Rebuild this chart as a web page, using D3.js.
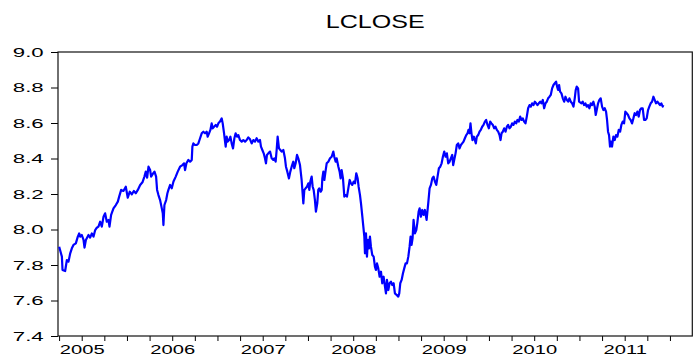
<!DOCTYPE html>
<html>
<head>
<meta charset="utf-8">
<script src="https://cdn.jsdelivr.net/npm/d3@7"></script>
<style>
    body { margin: 0; background: #fff; }
    text { font-family: "Liberation Sans", Arial, sans-serif; fill: #000; }
</style>
</head>
<body>
<script>
const dates = [
    2004.751, 2004.781, 2004.788, 2004.817, 2004.836, 2004.854, 2004.873, 2004.891, 2004.909, 2004.935,
    2004.957, 2004.972, 2004.983, 2005.001, 2005.020, 2005.031, 2005.046, 2005.075, 2005.093, 2005.112,
    2005.130, 2005.149, 2005.167, 2005.185, 2005.204, 2005.222, 2005.241, 2005.259, 2005.277, 2005.296,
    2005.307, 2005.325, 2005.351, 2005.377, 2005.399, 2005.414, 2005.436, 2005.461, 2005.487, 2005.509,
    2005.531, 2005.553, 2005.576, 2005.598, 2005.620, 2005.646, 2005.671, 2005.693, 2005.708, 2005.723,
    2005.738, 2005.756, 2005.767, 2005.789, 2005.804, 2005.822, 2005.833, 2005.848, 2005.866, 2005.885,
    2005.896, 2005.903, 2005.914, 2005.933, 2005.947, 2005.958, 2005.977, 2005.995, 2006.014, 2006.039,
    2006.061, 2006.087, 2006.113, 2006.131, 2006.142, 2006.157, 2006.179, 2006.198,
    2006.216, 2006.223, 2006.234, 2006.252, 2006.271, 2006.289, 2006.308, 2006.326, 2006.344, 2006.363,
    2006.381, 2006.392, 2006.407, 2006.422, 2006.436, 2006.447, 2006.462, 2006.481, 2006.495, 2006.510,
    2006.528, 2006.547, 2006.558, 2006.573, 2006.584, 2006.591, 2006.602, 2006.613, 2006.628, 2006.643,
    2006.657, 2006.672, 2006.687, 2006.701, 2006.716, 2006.731, 2006.749, 2006.768, 2006.786, 2006.805,
    2006.823, 2006.841, 2006.860, 2006.878, 2006.897, 2006.915, 2006.933, 2006.952, 2006.970, 2006.981,
    2006.996, 2007.011, 2007.025, 2007.036, 2007.047, 2007.062, 2007.081, 2007.099, 2007.117, 2007.128,
    2007.143, 2007.154, 2007.165, 2007.180, 2007.195, 2007.209, 2007.228, 2007.246, 2007.257, 2007.272,
    2007.290, 2007.305, 2007.320, 2007.338, 2007.349, 2007.364, 2007.379, 2007.393, 2007.412, 2007.430,
    2007.441, 2007.449, 2007.460, 2007.474, 2007.489, 2007.504, 2007.515, 2007.526, 2007.541, 2007.552,
    2007.563, 2007.577, 2007.588, 2007.603, 2007.614, 2007.625,
    2007.641, 2007.652, 2007.659, 2007.670, 2007.681, 2007.696, 2007.707, 2007.725, 2007.744, 2007.762,
    2007.780, 2007.791, 2007.806, 2007.817, 2007.836, 2007.850, 2007.861, 2007.872, 2007.887, 2007.902,
    2007.917, 2007.931, 2007.946, 2007.961, 2007.975, 2007.990, 2008.005, 2008.020, 2008.034, 2008.049,
    2008.060, 2008.075, 2008.086, 2008.101, 2008.112, 2008.123, 2008.130, 2008.141, 2008.152, 2008.163,
    2008.174, 2008.185, 2008.196, 2008.211, 2008.226, 2008.240, 2008.251, 2008.263, 2008.277, 2008.292,
    2008.307, 2008.321, 2008.336, 2008.351, 2008.362, 2008.373, 2008.388, 2008.402, 2008.417, 2008.432,
    2008.447, 2008.461, 2008.480, 2008.498, 2008.509, 2008.520, 2008.535, 2008.550, 2008.564, 2008.579,
    2008.594, 2008.609, 2008.623, 2008.634, 2008.645, 2008.656, 2008.667, 2008.682, 2008.697, 2008.708,
    2008.723, 2008.734, 2008.748, 2008.763, 2008.778, 2008.792, 2008.811, 2008.829, 2008.844, 2008.859,
    2008.874, 2008.888, 2008.903, 2008.918, 2008.932, 2008.947, 2008.962, 2008.977, 2008.991, 2009.006,
    2009.021, 2009.035, 2009.050, 2009.065,
    2009.094, 2009.105, 2009.116, 2009.131, 2009.145, 2009.160, 2009.175, 2009.190, 2009.204, 2009.219,
    2009.234, 2009.249, 2009.263, 2009.274, 2009.285, 2009.296, 2009.307, 2009.318, 2009.333, 2009.344,
    2009.355, 2009.366, 2009.381, 2009.396, 2009.410, 2009.425, 2009.440, 2009.455, 2009.469, 2009.484,
    2009.499, 2009.514, 2009.528, 2009.543, 2009.558, 2009.572, 2009.587, 2009.602, 2009.617, 2009.628,
    2009.639, 2009.653, 2009.668, 2009.683, 2009.698, 2009.712, 2009.727, 2009.742, 2009.756, 2009.771,
    2009.786, 2009.801, 2009.815, 2009.830, 2009.845, 2009.860, 2009.874, 2009.889, 2009.904, 2009.918,
    2009.933, 2009.948, 2009.963, 2009.977, 2009.992, 2010.007, 2010.021, 2010.036, 2010.051, 2010.066,
    2010.080, 2010.095, 2010.110, 2010.125, 2010.139, 2010.154, 2010.169, 2010.183, 2010.198, 2010.213,
    2010.228, 2010.242, 2010.253, 2010.264, 2010.275, 2010.286, 2010.301, 2010.316, 2010.331, 2010.345,
    2010.360, 2010.375, 2010.389, 2010.404, 2010.419, 2010.434, 2010.448, 2010.459, 2010.470, 2010.485,
    2010.496,
    2010.522, 2010.536, 2010.551, 2010.566, 2010.580, 2010.595, 2010.610, 2010.625, 2010.639, 2010.654,
    2010.669, 2010.680, 2010.691, 2010.706, 2010.720, 2010.735, 2010.750, 2010.765, 2010.779, 2010.794,
    2010.805, 2010.816, 2010.827, 2010.838, 2010.849, 2010.860, 2010.875, 2010.890, 2010.904, 2010.919,
    2010.934, 2010.949, 2010.963, 2010.978, 2010.993, 2011.007, 2011.022, 2011.037, 2011.052, 2011.066,
    2011.081, 2011.096, 2011.110, 2011.125, 2011.140, 2011.155, 2011.169, 2011.184, 2011.199, 2011.214,
    2011.228, 2011.243, 2011.258, 2011.272, 2011.287, 2011.302, 2011.317, 2011.331, 2011.346, 2011.361,
    2011.375, 2011.390, 2011.405, 2011.420, 2011.427
];

// LCLOSE value for each date above
const lclose = [
    7.903, 7.847, 7.772, 7.766, 7.828, 7.819, 7.866, 7.894, 7.913, 7.922,
    7.960, 7.978, 7.960, 7.969, 7.941, 7.898, 7.941, 7.969, 7.954, 7.978,
    7.960, 7.997, 8.010, 8.016, 8.044, 8.016, 8.072, 8.091, 8.044, 8.054,
    8.016, 8.082, 8.119, 8.138, 8.157, 8.185, 8.223, 8.217, 8.241, 8.179,
    8.213, 8.198, 8.217, 8.204, 8.223, 8.251, 8.266, 8.298, 8.326, 8.292,
    8.354, 8.335, 8.298, 8.316, 8.326, 8.298, 8.223, 8.194, 8.166, 8.119,
    8.091, 8.025, 8.138, 8.166, 8.204, 8.223, 8.251, 8.232, 8.270, 8.298,
    8.326, 8.354, 8.363, 8.373, 8.335, 8.373, 8.392, 8.382,
    8.392, 8.467, 8.485, 8.476, 8.476, 8.485, 8.514, 8.542, 8.551, 8.542,
    8.551, 8.523, 8.542, 8.561, 8.598, 8.570, 8.579, 8.589, 8.579, 8.598,
    8.608, 8.626, 8.598, 8.542, 8.495, 8.467, 8.523, 8.495, 8.504, 8.523,
    8.485, 8.457, 8.514, 8.542, 8.523, 8.532, 8.504, 8.495, 8.504, 8.495,
    8.504, 8.519, 8.508, 8.485, 8.504, 8.495, 8.514, 8.495, 8.504, 8.467,
    8.448, 8.429, 8.401, 8.373, 8.420, 8.429, 8.439, 8.401, 8.392, 8.401,
    8.382, 8.448, 8.523, 8.457, 8.448, 8.439, 8.448, 8.401, 8.354, 8.326,
    8.288, 8.326, 8.354, 8.382, 8.345, 8.373, 8.420, 8.401, 8.363, 8.279,
    8.204, 8.147, 8.223, 8.232, 8.241, 8.260, 8.223, 8.270, 8.298, 8.241,
    8.223, 8.166, 8.101, 8.147, 8.223, 8.232,
    8.213, 8.223, 8.288, 8.326, 8.279, 8.335, 8.373, 8.382, 8.401, 8.410,
    8.439, 8.410, 8.382, 8.401, 8.354, 8.326, 8.288, 8.335, 8.288, 8.185,
    8.194, 8.185, 8.232, 8.279, 8.260, 8.251, 8.270, 8.260, 8.317, 8.288,
    8.241, 8.194, 8.147, 8.072, 8.016, 7.960, 7.866, 7.978, 7.847, 7.941,
    7.894, 7.960, 7.903, 7.856, 7.847, 7.791, 7.772, 7.809, 7.781, 7.734,
    7.762, 7.697, 7.734, 7.678, 7.640, 7.716, 7.659, 7.697, 7.706, 7.687,
    7.697, 7.640, 7.631, 7.622, 7.640, 7.697, 7.716, 7.753, 7.781, 7.809,
    7.809, 7.847, 7.903, 7.960, 7.913, 7.950, 8.054, 7.978, 7.997, 8.035,
    8.101, 8.119, 8.072, 8.110, 8.082, 8.110, 8.054, 8.147, 8.232, 8.251,
    8.288, 8.298, 8.270, 8.251, 8.298, 8.345, 8.354, 8.373, 8.410, 8.439,
    8.410, 8.429, 8.373, 8.382,
    8.420, 8.363, 8.392, 8.429, 8.476, 8.485, 8.457, 8.476, 8.485, 8.495,
    8.514, 8.532, 8.542, 8.561, 8.542, 8.598, 8.542, 8.504, 8.523, 8.504,
    8.485, 8.523, 8.532, 8.551, 8.561, 8.579, 8.589, 8.608, 8.617, 8.589,
    8.570, 8.608, 8.598, 8.589, 8.570, 8.579, 8.561, 8.551, 8.532, 8.504,
    8.542, 8.551, 8.570, 8.551, 8.579, 8.589, 8.570, 8.579, 8.598, 8.589,
    8.608, 8.598, 8.617, 8.608, 8.636, 8.617, 8.626, 8.608, 8.598, 8.636,
    8.683, 8.701, 8.692, 8.711, 8.701, 8.720, 8.711, 8.701, 8.711, 8.720,
    8.711, 8.730, 8.683, 8.711, 8.720, 8.739, 8.748, 8.758, 8.795, 8.814,
    8.824, 8.833, 8.805, 8.786, 8.814, 8.777, 8.767, 8.739, 8.720, 8.748,
    8.730, 8.720, 8.739, 8.720, 8.711, 8.692, 8.739, 8.786, 8.805, 8.795,
    8.720,
    8.711, 8.720, 8.701, 8.711, 8.692, 8.701, 8.683, 8.711, 8.701, 8.720,
    8.692, 8.645, 8.673, 8.711, 8.730, 8.739, 8.692, 8.673, 8.683, 8.664,
    8.617, 8.551, 8.532, 8.467, 8.495, 8.467, 8.523, 8.504, 8.532, 8.523,
    8.561, 8.551, 8.589, 8.608, 8.598, 8.664, 8.655, 8.645, 8.626, 8.617,
    8.598, 8.626, 8.655, 8.645, 8.664, 8.636, 8.673, 8.683, 8.683, 8.617,
    8.617, 8.626, 8.673, 8.692, 8.711, 8.720, 8.748, 8.730, 8.711, 8.720,
    8.711, 8.701, 8.711, 8.692, 8.701
];

const yTicks = [7.4, 7.6, 7.8, 8.0, 8.2, 8.4, 8.6, 8.8, 9.0];
const yearLabels = [2005, 2006, 2007, 2008, 2009, 2010, 2011];

const width = 699, height = 356;
const margin = {top: 52, right: 6.7, bottom: 20, left: 58};
const plotW = width - margin.left - margin.right;
const plotH = height - margin.top - margin.bottom;

let svg = d3.select("body")
    .append("svg")
    .attr("width", width)
    .attr("height", height);

let g = svg.append("g")
    .attr("transform", `translate(${margin.left}, ${margin.top})`);

let x = d3.scaleLinear()
    .domain([2004.738, 2011.747])
    .range([0, plotW]);

let y = d3.scaleLinear()
    .domain([7.4, 9.0])
    .range([plotH, 0]);

// quarter ticks along the bottom
let quarters = [2004.75].concat(yearLabels.flatMap(function(yr) { return [yr, yr + 0.25, yr + 0.5, yr + 0.75]; }))
    .filter(function(q) { return q <= x.domain()[1]; });

let xAxis = g.append("g")
    .attr("transform", `translate(0, ${plotH})`)
    .call(d3.axisBottom(x).tickValues(quarters).tickSize(5).tickFormat(""));
xAxis.select(".domain").remove();
xAxis.selectAll("line").attr("stroke", "#000");

let yearAxis = g.append("g")
    .attr("transform", `translate(0, ${plotH})`)
    .call(d3.axisBottom(x).tickValues(yearLabels).tickSize(0).tickFormat(d3.format("d")));
yearAxis.select(".domain").remove();
yearAxis.selectAll("text")
    .attr("y", 0)
    .attr("dy", 0)
    .attr("transform", "translate(0, 17.6) scale(1.55, 1)")
    .style("font-size", "13px");

let yAxis = g.append("g")
    .call(d3.axisLeft(y).tickValues(yTicks).tickSize(7).tickFormat(d3.format(".1f")));
yAxis.select(".domain").remove();
yAxis.selectAll("line").attr("stroke", "#000");
yAxis.selectAll("text")
    .attr("x", 0)
    .attr("dy", 0)
    .attr("transform", "translate(-14.3, 4.3) scale(1.85, 1)")
    .style("font-size", "12px");

// frame round the plot
g.append("rect")
    .attr("width", plotW)
    .attr("height", plotH)
    .attr("fill", "none")
    .attr("stroke", "#111")
    .attr("stroke-width", 1.2);

let line = d3.line()
    .x(function(d, i) { return x(dates[i]); })
    .y(function(d) { return y(d); });

g.append("path")
    .datum(lclose)
    .attr("fill", "none")
    .attr("stroke", "#0000ff")
    .attr("stroke-width", 2.2)
    .attr("stroke-linejoin", "round")
    .attr("d", line);

svg.append("text")
    .attr("transform", `translate(${margin.left + plotW / 2}, 28) scale(1.32, 1)`)
    .style("text-anchor", "middle")
    .style("font-size", "19px")
    .text("LCLOSE");
</script>
</body>
</html>
